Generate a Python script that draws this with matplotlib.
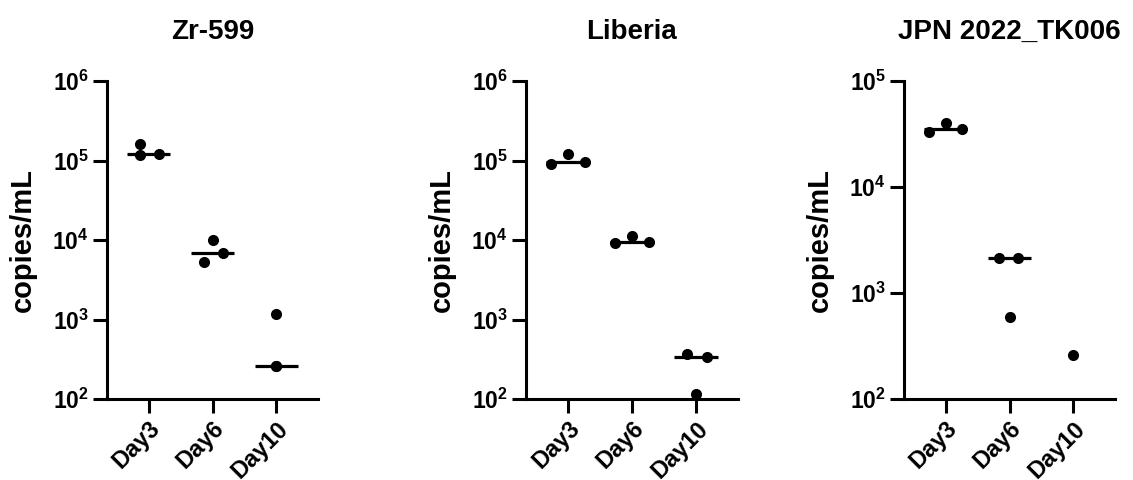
import matplotlib
matplotlib.use("Agg")
import matplotlib.pyplot as plt
import numpy as np

plt.rcParams['font.family'] = ['Liberation Sans', 'DejaVu Sans']
plt.rcParams['font.weight'] = 'bold'
plt.rcParams['mathtext.fontset'] = 'custom'
plt.rcParams['mathtext.rm'] = 'Liberation Sans:bold'
plt.rcParams['mathtext.bf'] = 'Liberation Sans:bold'
plt.rcParams['mathtext.it'] = 'Liberation Sans:bold'

# ---- data ----
titles = ["Zr-599", "Liberia", "JPN 2022_TK006"]
days = ["Day3", "Day6", "Day10"]

zr_day3 = [1.6e5, 1.18e5, 1.2e5]
zr_day6 = [1.0e4, 6.9e3, 5.3e3]
zr_day10 = [1.16e3, 260, 260]
zr_median = [1.2e5, 6.9e3, 260]

lib_day3 = [9.1e4, 1.19e5, 9.5e4]
lib_day6 = [9.1e3, 1.12e4, 9.5e3]
lib_day10 = [369, 335, 116]
lib_median = [9.5e4, 9.5e3, 335]

jpn_day3 = [3.27e4, 4.05e4, 3.53e4]
jpn_day6 = [2.13e3, 2.13e3, 594]
jpn_day10 = [261]
jpn_median = [3.53e4, 2.13e3, None]

ylims = [(1e2, 1e6), (1e2, 1e6), (1e2, 1e5)]

# jitter offsets (layout only)
jitter = [
    [[-0.14, -0.14, 0.16], [0.0, 0.17, -0.14], [0.0, 0.0, 0.0]],
    [[-0.26, 0.0, 0.27], [-0.26, 0.0, 0.27], [-0.14, 0.16, 0.0]],
    [[-0.26, 0.0, 0.25], [-0.16, 0.14, 0.0], [0.0]],
]

groups = [
    [zr_day3, zr_day6, zr_day10],
    [lib_day3, lib_day6, lib_day10],
    [jpn_day3, jpn_day6, jpn_day10],
]
medians = [zr_median, lib_median, jpn_median]

fig = plt.figure(figsize=(11.33, 4.8), dpi=100)
lefts = [107/1133, 526/1133, 904/1133]
widths = [211/1133, 212/1133, 211/1133]
bottom = 1 - 399/480
height = (399 - 81) / 480

for i in range(3):
    ax = fig.add_axes([lefts[i], bottom, widths[i], height])
    ax.set_yscale('log')
    for j, vals in enumerate(groups[i]):
        xs = np.array(jitter[i][j]) + j
        ax.scatter(xs, vals, s=64, color='black', zorder=3, linewidths=0)
        m = medians[i][j]
        if m is not None:
            ax.plot([j - 0.34, j + 0.34], [m, m], color='black', lw=2.3,
                    solid_capstyle='butt', zorder=2)
    ax.set_xlim(-0.65, 2.65)
    ax.set_ylim(*ylims[i])
    lo, hi = [int(round(np.log10(v))) for v in ylims[i]]
    ticks = [10.0 ** k for k in range(lo, hi + 1)]
    ax.set_yticks(ticks)
    ax.set_yticklabels([r'$\mathbf{10^{%d}}$' % k for k in range(lo, hi + 1)])
    ax.yaxis.set_minor_locator(matplotlib.ticker.NullLocator())
    ax.set_xticks(range(3))
    ax.set_xticklabels(days, rotation=45, ha='right', rotation_mode='anchor')
    for sp in ['top', 'right']:
        ax.spines[sp].set_visible(False)
    for sp in ['left', 'bottom']:
        ax.spines[sp].set_linewidth(2.2)
    ax.tick_params(axis='both', length=10, width=2.2, labelsize=16.5, pad=3)
    ax.tick_params(axis='x', labelsize=17, pad=3)
    for lab in ax.get_xticklabels() + ax.get_yticklabels():
        lab.set_fontweight('bold')
    ax.set_ylabel('copies/mL', fontsize=21, fontweight='bold', labelpad=11)
    ax.set_title(titles[i], fontsize=20, fontweight='bold', pad=30)

fig.savefig('out.png', dpi=100)
